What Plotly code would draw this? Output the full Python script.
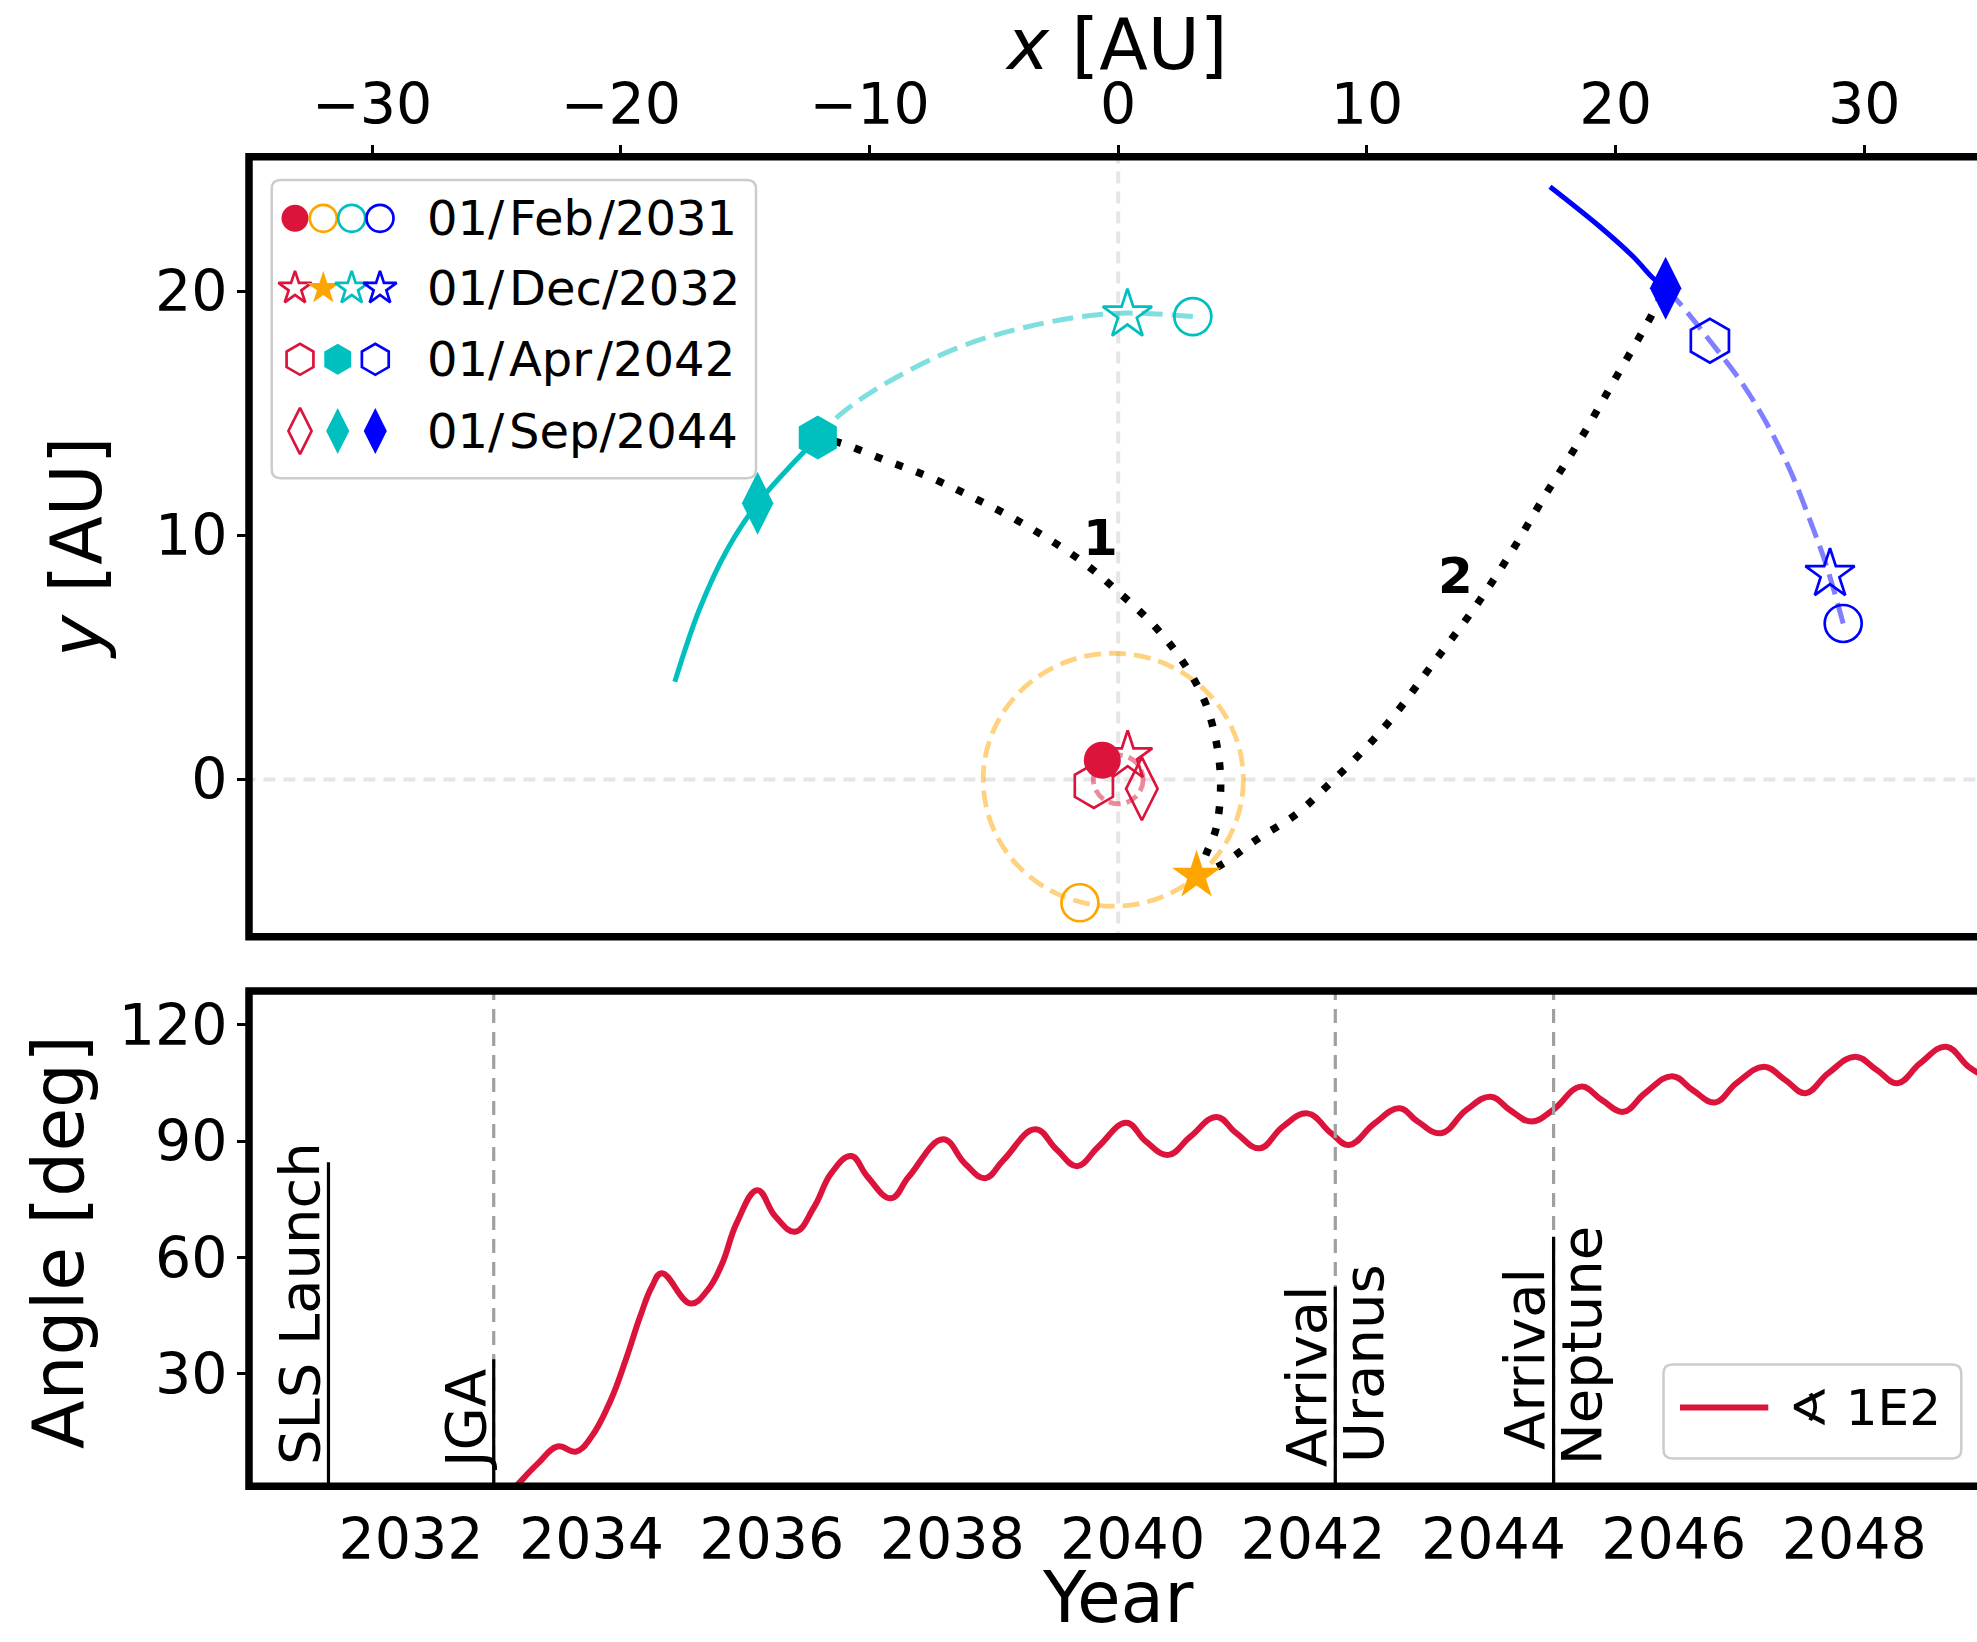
import plotly.graph_objects as go

W, H = 1977, 1642
FONT = "DejaVu Sans"
CRIMSON = "#DC143C"
ORANGE = "#FFA500"
CYAN = "#00BFBF"
BLUE = "#0000FF"

# ------------------------------------------------------------------ data
legend_labels = ["01/\u200aFeb\u200a/2031", "01/\u200aDec/2032",
                 "01/\u200aApr\u200a/2042", "01/\u200aSep/2044"]

# positions on the four dates [AU]
earth_x = [-0.64, 0.38, -0.98, 0.95]
earth_y = [0.79, 0.95, -0.26, -0.38]
jupiter_x = [-1.54, 3.15]
jupiter_y = [-5.05, -3.94]
uranus_x = [3.00, 0.37, -12.08, -14.50]
uranus_y = [18.96, 19.04, 14.01, 11.31]
neptune_x = [29.15, 28.62, 23.79, 22.01]
neptune_y = [6.39, 8.41, 17.97, 20.12]

# orbit arcs [AU]
uranus_past_x = [3.00, -0.15, -3.33, -6.51, -9.69, -11.28, -12.08]
uranus_past_y = [18.96, 19.09, 18.62, 17.66, 16.02, 14.86, 14.01]
uranus_next_x = [-12.08, -14.50, -15.73, -16.85, -17.83]
uranus_next_y = [14.01, 11.31, 9.40, 6.94, 4.00]
neptune_past_x = [29.15, 28.49, 27.81, 27.01, 26.07, 25.00, 23.79, 22.58, 22.01]
neptune_past_y = [6.39, 8.71, 10.63, 12.68, 14.59, 16.36, 17.97, 19.50, 20.12]
neptune_next_x = [22.01, 21.51, 20.71, 19.37, 17.36]
neptune_next_y = [20.12, 20.53, 21.41, 22.64, 24.28]
earth_orbit_x = [-1.0, 1.0]
earth_orbit_y = [-1.0, 1.0]
jupiter_orbit_x = [-5.43, 5.03]
jupiter_orbit_y = [-5.19, 5.17]

# transfer legs [AU]
leg1_x = [3.15, 3.57, 3.93, 4.12, 3.93, 3.43, 2.50, 1.36, 0.00, -1.35, -2.85,
          -4.45, -6.04, -7.62, -9.37, -11.12, -12.08]
leg1_y = [-3.94, -2.97, -2.02, -0.21, 1.60, 3.32, 4.97, 6.39, 7.69, 8.85, 9.88,
          10.83, 11.65, 12.40, 13.08, 13.77, 14.01]
leg2_x = [3.15, 4.15, 5.58, 7.16, 8.46, 9.75, 11.04, 12.62, 14.27, 15.78,
          17.14, 18.58, 19.94, 21.31, 22.01]
leg2_y = [-3.94, -3.49, -2.45, -1.42, -0.21, 1.08, 2.55, 4.70, 6.95, 9.27,
          11.60, 13.93, 16.34, 18.76, 20.12]
leg_labels = ["1", "2"]
leg_label_x = [-0.71, 13.55]
leg_label_y = [9.88, 8.32]

# angle vs time
years = [2032.95, 2033.195, 2033.41, 2033.625, 2033.83, 2034.0, 2034.215, 2034.38,
         2034.54, 2034.67, 2034.78, 2035.10, 2035.29, 2035.45, 2035.61, 2035.84,
         2036.04, 2036.26, 2036.47, 2036.66, 2036.88, 2037.06, 2037.32, 2037.52,
         2037.90, 2038.14, 2038.365, 2038.57, 2038.92, 2039.16, 2039.385, 2039.62,
         2039.93, 2040.15, 2040.395, 2040.64, 2040.93, 2041.15, 2041.41, 2041.665,
         2041.94, 2042.20, 2042.40, 2042.68, 2042.96, 2043.16, 2043.42, 2043.70,
         2043.97, 2044.18, 2044.42, 2044.66, 2044.97, 2045.20, 2045.44, 2045.68,
         2045.98, 2046.21, 2046.455, 2046.695, 2047.00, 2047.235, 2047.46, 2047.71,
         2048.01, 2048.25, 2048.48, 2048.73, 2049.02, 2049.27, 2049.5]
angles = [-4.5, 1.8, 7.0, 11.3, 10.0, 13.8, 23.3, 33.6,
          44.8, 52.5, 56.0, 48.2, 51.7, 58.5, 68.9, 77.4,
          70.6, 66.7, 73.1, 81.8, 86.2, 80.9, 75.3, 80.9,
          90.5, 84.3, 80.5, 85.2, 93.1, 87.8, 83.6, 88.6,
          94.8, 89.9, 86.5, 91.2, 96.3, 92.1, 88.2, 93.8,
          97.2, 92.1, 89.05, 94.6, 98.5, 95.1, 92.1, 98.1,
          101.5, 98.1, 95.1, 98.1, 104.1, 100.7, 97.6, 102.4,
          106.8, 103.2, 100.0, 105.0, 109.2, 105.8, 102.4, 107.5,
          111.8, 108.4, 105.0, 110.1, 114.4, 109.2, 106.0]
curve_label = "\u2222 1E2"

event_years = [2031.085, 2032.917, 2042.247, 2044.667]
event_line_top = [84.6, 33.8, 52.5, 65.4]
event_dashed = [False, True, True, True]
event_left_text = ["SLS Launch", "JGA", "Arrival", "Arrival"]
event_right_text = ["", "", "Uranus", "Neptune"]
event_left_bottom = [6.0, 4.8, 5.5, 9.8]
event_right_bottom = [6.0, 6.0, 6.5, 6.0]

top_x_ticks = [-30, -20, -10, 0, 10, 20, 30]
top_y_ticks = [0, 10, 20]
year_ticks = [2032, 2034, 2036, 2038, 2040, 2042, 2044, 2046, 2048]
year_minor_marks = [2032.5, 2035.0, 2037.5, 2040.0, 2042.5, 2045.0, 2047.5]
angle_ticks = [30, 60, 90, 120]

# ------------------------------------------------------------------ layout helpers
def py(p):
    return 1 - p / H

def px(p):
    return p / W

TOP_DX = [249 / W, 1.0]
TOP_DY = [py(936.7), py(156.7)]
BOT_DY = [py(1486.3), py(991.0)]

fig = go.Figure()

def dash_line(xs, ys, color, width, dash, xa="x", ya="y", shape="spline"):
    fig.add_trace(go.Scatter(x=xs, y=ys, mode="lines", xaxis=xa, yaxis=ya,
                             line=dict(color=color, width=width, dash=dash, shape=shape, smoothing=1.0),
                             hoverinfo="skip", showlegend=False))

# orbits / paths
dash_line(uranus_past_x, uranus_past_y, "rgba(0,191,191,0.5)", 5, "21px,9px")
dash_line(uranus_next_x, uranus_next_y, CYAN, 5, "solid")
dash_line(neptune_past_x, neptune_past_y, "rgba(0,0,255,0.5)", 5, "21px,9px")
dash_line(neptune_next_x, neptune_next_y, BLUE, 5, "solid")
dash_line(leg1_x, leg1_y, "black", 7.5, "7.5px,14.5px")
dash_line(leg2_x, leg2_y, "black", 7.5, "7.5px,14.5px")

SIZES = {"circle": 37, "star": 37, "hexagon": 44, "diamond-tall": 45}
BASES = ["circle", "star", "hexagon", "diamond-tall"]

def marker(x, y, base, color, filled, xa="x", ya="y", size=None):
    sym = base if filled else base + "-open"
    fig.add_trace(go.Scatter(
        x=[x], y=[y], mode="markers", xaxis=xa, yaxis=ya,
        marker=dict(symbol=sym, size=size or SIZES[base], color=color,
                    line=dict(color=color, width=0 if filled else 2.7)),
        hoverinfo="skip", showlegend=False))

bodies = [
    (earth_x, earth_y, CRIMSON, [True, False, False, False]),
    (jupiter_x, jupiter_y, ORANGE, [False, True]),
    (uranus_x, uranus_y, CYAN, [False, False, True, True]),
    (neptune_x, neptune_y, BLUE, [False, False, False, True]),
]
# open markers first, filled on top
for want_filled in (False, True):
    for xs, ys, col, fills in bodies:
        for i in range(len(xs)):
            if fills[i] == want_filled:
                marker(xs[i], ys[i], BASES[i], col, fills[i])

# angle curve
fig.add_trace(go.Scatter(x=years, y=angles, mode="lines", xaxis="x2", yaxis="y2",
                         line=dict(color=CRIMSON, width=6, shape="spline", smoothing=1.2),
                         hoverinfo="skip", showlegend=False))

# ------------------------------------------------------------------ custom legends (overlay pixel axes)
leg_rows_y = [218.3, 288.3, 359.3, 431.0]
row_x4 = [295, 323.3, 351.7, 380]
row_x3 = [300, 337.7, 375.3]
legend_markers = [
    ("circle", [(CRIMSON, True), (ORANGE, False), (CYAN, False), (BLUE, False)], 27),
    ("star", [(CRIMSON, False), (ORANGE, True), (CYAN, False), (BLUE, False)], 25),
    ("hexagon", [(CRIMSON, False), (CYAN, True), (BLUE, False)], 31),
    ("diamond-tall", [(CRIMSON, False), (CYAN, True), (BLUE, True)], 33),
]
for r, (base, items, sz) in enumerate(legend_markers):
    xs = row_x4 if len(items) == 4 else row_x3
    for k, (col, filled) in enumerate(items):
        marker(xs[k], leg_rows_y[r], base, col, filled, xa="x4", ya="y4", size=sz)

fig.add_trace(go.Scatter(x=[1680, 1768.3], y=[1407.5, 1407.5], mode="lines", xaxis="x4", yaxis="y4",
                         line=dict(color=CRIMSON, width=6), hoverinfo="skip", showlegend=False))

def rrect(x0, y0, x1, y1, r):
    return (f"M{x0+r},{y0} L{x1-r},{y0} Q{x1},{y0} {x1},{y0+r} L{x1},{y1-r} "
            f"Q{x1},{y1} {x1-r},{y1} L{x0+r},{y1} Q{x0},{y1} {x0},{y1-r} "
            f"L{x0},{y0+r} Q{x0},{y0} {x0+r},{y0} Z")

shapes = []
for (x0, y0, x1, y1) in [(271.7, 180, 756, 478.3), (1663.5, 1364.5, 1961.3, 1458.6)]:
    shapes.append(dict(type="path", path=rrect(x0, y0, x1, y1, 9), xref="x4", yref="y4",
                       line=dict(color="#cccccc", width=2.5), fillcolor="rgba(255,255,255,0.85)",
                       layer="below"))

annotations = []
for r, lab in enumerate(legend_labels):
    annotations.append(dict(x=425, y=leg_rows_y[r], xref="x4", yref="y4", text=lab, showarrow=False,
                            xanchor="left", yanchor="middle", font=dict(family=FONT, size=48, color="black")))
annotations.append(dict(x=1786, y=1407.5, xref="x4", yref="y4", text=curve_label, showarrow=False,
                        xanchor="left", yanchor="middle", font=dict(family=FONT, size=50, color="black")))

# ------------------------------------------------------------------ reference lines / orbits (shapes)
grey = "rgba(0,0,0,0.1)"
shapes.append(dict(type="line", xref="x", yref="y", x0=0, x1=0, y0=-10, y1=30,
                   line=dict(color=grey, width=4, dash="12px,8px"), layer="below"))
shapes.append(dict(type="line", xref="x", yref="y", x0=-40, x1=40, y0=0, y1=0,
                   line=dict(color=grey, width=4, dash="12px,8px"), layer="below"))
shapes.append(dict(type="circle", xref="x", yref="y",
                   x0=jupiter_orbit_x[0], x1=jupiter_orbit_x[1], y0=jupiter_orbit_y[0], y1=jupiter_orbit_y[1],
                   line=dict(color="rgba(255,165,0,0.5)", width=4.8, dash="17px,8px"), layer="below"))
shapes.append(dict(type="circle", xref="x", yref="y",
                   x0=earth_orbit_x[0], x1=earth_orbit_x[1], y0=earth_orbit_y[0], y1=earth_orbit_y[1],
                   line=dict(color="rgba(220,20,60,0.5)", width=4.8, dash="12px,6px"), layer="below"))

for i, yr in enumerate(event_years):
    if event_dashed[i]:
        shapes.append(dict(type="line", xref="x2", yref="y2", x0=yr, x1=yr, y0=-10, y1=140,
                           line=dict(color="#a0a0a0", width=3.2, dash="14px,9px"), layer="above"))
    shapes.append(dict(type="line", xref="x2", yref="y2", x0=yr, x1=yr, y0=-10, y1=event_line_top[i],
                       line=dict(color="black", width=3.2), layer="above"))
    annotations.append(dict(x=yr, y=event_left_bottom[i], xref="x2", yref="y2", text=event_left_text[i],
                            textangle=-90, showarrow=False, xanchor="center", yanchor="bottom",
                            xshift=-29, font=dict(family=FONT, size=56, color="black")))
    if event_right_text[i]:
        annotations.append(dict(x=yr, y=event_right_bottom[i], xref="x2", yref="y2", text=event_right_text[i],
                                textangle=-90, showarrow=False, xanchor="center", yanchor="bottom",
                                xshift=28, font=dict(family=FONT, size=56, color="black")))

for lab, lx, ly in zip(leg_labels, leg_label_x, leg_label_y):
    annotations.append(dict(x=lx, y=ly, xref="x", yref="y", text=f"<b>{lab}</b>", showarrow=False,
                            xanchor="center", yanchor="middle", font=dict(family=FONT, size=50, color="black")))

# axis titles
TF = dict(family=FONT, size=71, color="black")
annotations += [
    dict(x=px(1116), y=py(44), xref="paper", yref="paper", text="<i>x</i> [AU]", showarrow=False,
         xanchor="center", yanchor="middle", font=TF),
    dict(x=px(76), y=py(548), xref="paper", yref="paper", text="<i>y</i> [AU]", showarrow=False,
         textangle=-90, xanchor="center", yanchor="middle", font=TF),
    dict(x=px(58), y=py(1242), xref="paper", yref="paper", text="Angle [deg]", showarrow=False,
         textangle=-90, xanchor="center", yanchor="middle", font=TF),
    dict(x=px(1118), y=py(1597), xref="paper", yref="paper", text="Year", showarrow=False,
         xanchor="center", yanchor="middle", font=TF),
]

# spines
for xr, yr in [("x domain", "y domain"), ("x2 domain", "y2 domain")]:
    shapes.append(dict(type="rect", xref=xr, yref=yr, x0=0, x1=1.02, y0=0, y1=1,
                       line=dict(color="black", width=7.5), fillcolor="rgba(0,0,0,0)", layer="above"))

TICKF = dict(family=FONT, size=57, color="black")
common = dict(showgrid=False, zeroline=False, showline=False, tickfont=TICKF,
              ticks="outside", ticklen=11, tickwidth=2.5, tickcolor="black", fixedrange=True)

fig.update_layout(
    width=W, height=H, margin=dict(l=0, r=0, t=0, b=0),
    paper_bgcolor="white", plot_bgcolor="rgba(0,0,0,0)", showlegend=False,
    font=dict(family=FONT, color="black"),
    xaxis=dict(domain=TOP_DX, anchor="y", side="top", range=[-34.95, 34.53],
               tickvals=top_x_ticks, ticktext=[("\u2212" + str(-v)) if v < 0 else str(v) for v in top_x_ticks],
               ticklabelstandoff=-2, **common),
    yaxis=dict(domain=TOP_DY, anchor="x", range=[-6.44, 25.51], tickvals=top_y_ticks,
               ticklabelstandoff=-2, **common),
    xaxis2=dict(domain=TOP_DX, anchor="y2", range=[2030.204, 2049.361], tickvals=year_ticks,
                ticktext=[str(v) for v in year_ticks],
                **{**common, "ticks": "", "ticklen": 0}, ticklabelstandoff=15),
    xaxis3=dict(domain=TOP_DX, anchor="y2", overlaying="x2", range=[2030.204, 2049.361],
                tickvals=year_minor_marks, showticklabels=False, **common),
    yaxis2=dict(domain=BOT_DY, anchor="x2", range=[1.04, 128.76], tickvals=angle_ticks,
                ticklabelstandoff=-2, **common),
    xaxis4=dict(domain=[0, 1], anchor="y4", range=[0, W], visible=False, fixedrange=True),
    yaxis4=dict(domain=[0, 1], anchor="x4", range=[H, 0], visible=False, fixedrange=True),
    shapes=shapes, annotations=annotations,
)

fig.write_html("out.html")
